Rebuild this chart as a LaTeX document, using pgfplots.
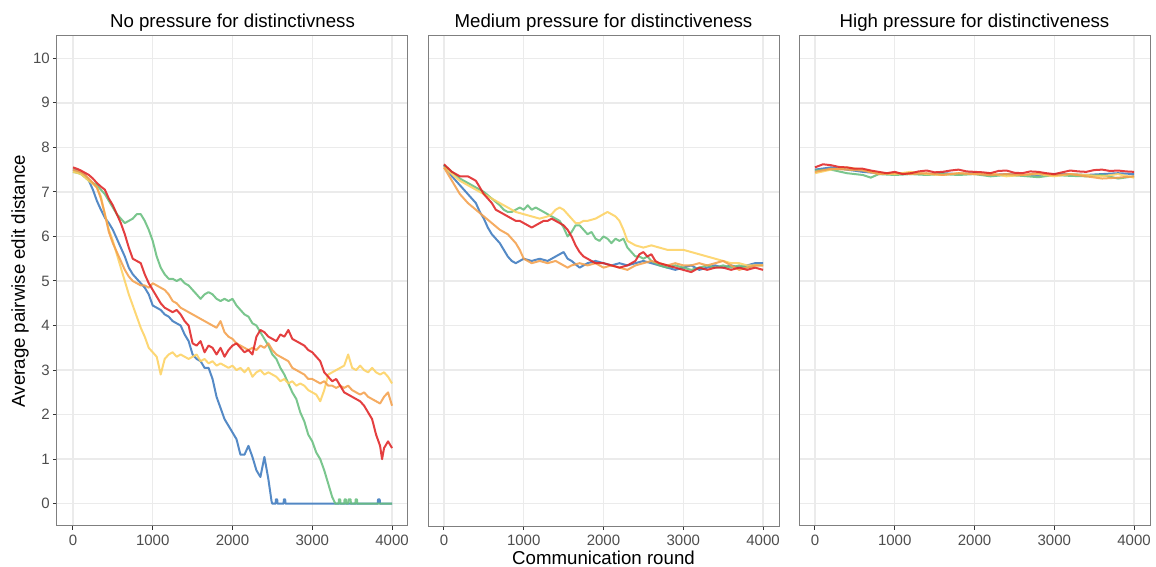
\documentclass[border=0pt]{standalone}
\usepackage{fontspec}
\setmainfont{Liberation Sans}
\usepackage{pgfplots}
\pgfplotsset{compat=1.18}

\definecolor{sblue}{RGB}{62,122,190}
\definecolor{sgreen}{RGB}{104,190,126}
\definecolor{syellow}{RGB}{253,210,98}
\definecolor{sorange}{RGB}{244,160,76}
\definecolor{sred}{RGB}{224,36,38}
\definecolor{gridgrey}{RGB}{235,235,235}
\definecolor{bordergrey}{RGB}{127,127,127}
\definecolor{tickgrey}{RGB}{51,51,51}
\definecolor{labgrey}{RGB}{77,77,77}

\newcommand{\ticksize}{\fontsize{11.25}{13}\selectfont}
\newcommand{\titlesize}{\fontsize{14}{16}\selectfont}

\pgfplotsset{
  panel/.style={
    scale only axis, width=263.25pt, height=367.5pt,
    xmin=-200, xmax=4200, ymin=-0.5, ymax=10.5,
    xtick={0,1000,2000,3000,4000}, ytick={0,1,...,10},
    xtick pos=bottom, ytick pos=left,
    grid=major,
    major grid style={line width=1.1pt, draw=gridgrey},
    axis line style={line width=0.75pt, draw=bordergrey},
    tick align=outside, major tick length=3pt,
    tick style={line width=0.75pt, draw=tickgrey},
    ticklabel style={font=\ticksize, text=labgrey},
    yticklabel style={inner sep=2.25pt},
    /pgf/number format/assume math mode=true,
    /pgf/number format/1000 sep={},
    scaled x ticks=false,
    title style={font=\titlesize, at={(0.5,1)}, anchor=base, yshift=0.5pt},
    every axis plot/.append style={line width=1.5pt, opacity=0.88, line join=round, no markers},
  },
  inner/.style={yticklabels={}, ytick style={draw=none}},
}

\begin{document}
\begin{tikzpicture}
\path[use as bounding box] (-42.75pt,-30.75pt) rectangle (824.25pt,394.5pt);

% ---- panel 1
\begin{axis}[panel, at={(0pt,0pt)}, anchor=south west,
  title={No pressure for distinctivness},
  ylabel={Average pairwise edit distance},
  ylabel style={font=\titlesize, at={(axis description cs:0,0.5)}, anchor=center, yshift=27.75pt}]
\addplot[sblue] coordinates {
(0,7.50)(50,7.48)(100,7.42)(150,7.38)(200,7.25)(250,7.05)(300,6.80)(350,6.60)(400,6.42)(450,6.30)
(500,6.15)(550,5.95)(600,5.75)(650,5.55)(700,5.30)(750,5.15)(800,5.05)(850,4.95)(900,4.85)(950,4.70)
(1000,4.45)(1050,4.40)(1100,4.35)(1150,4.25)(1200,4.20)(1250,4.10)(1300,4.05)(1350,4.00)(1400,3.80)(1450,3.65)
(1500,3.35)(1550,3.25)(1600,3.20)(1650,3.05)(1700,3.05)(1750,2.80)(1800,2.40)(1850,2.15)(1900,1.90)(1950,1.75)
(2000,1.60)(2050,1.45)(2100,1.10)(2150,1.10)(2200,1.30)(2250,1.05)(2300,0.75)(2350,0.60)(2400,1.05)(2450,0.55)
(2490,0.05)(2500,0)(2540,0)(2545,0.1)(2560,0.1)(2565,0)(2640,0)(2645,0.1)(2660,0.1)(2665,0)
(3820,0)(3825,0.1)(3845,0.1)(3850,0)(4000,0)};
\addplot[sgreen] coordinates {
(0,7.45)(50,7.43)(100,7.40)(150,7.33)(200,7.25)(250,7.20)(300,7.15)(350,7.05)(400,6.95)(450,6.80)
(500,6.65)(550,6.50)(600,6.40)(650,6.30)(700,6.35)(750,6.40)(800,6.50)(850,6.50)(900,6.35)(950,6.15)
(1000,5.90)(1050,5.55)(1100,5.30)(1150,5.15)(1200,5.05)(1250,5.05)(1300,5.00)(1350,5.05)(1400,4.95)(1450,4.90)
(1500,4.80)(1550,4.70)(1600,4.60)(1650,4.70)(1700,4.75)(1750,4.70)(1800,4.60)(1850,4.55)(1900,4.60)(1950,4.55)
(2000,4.60)(2050,4.45)(2100,4.35)(2150,4.25)(2200,4.20)(2250,4.05)(2300,4.00)(2350,3.85)(2400,3.70)(2450,3.55)
(2500,3.35)(2550,3.25)(2600,3.05)(2650,2.90)(2700,2.70)(2750,2.50)(2800,2.35)(2850,2.05)(2900,1.85)(2950,1.55)
(3000,1.40)(3050,1.15)(3100,1.00)(3150,0.75)(3200,0.45)(3250,0.15)(3290,0)(3330,0)(3335,0.1)(3350,0.1)(3355,0)
(3400,0)(3405,0.1)(3420,0.1)(3425,0)(3450,0)(3455,0.1)(3480,0.1)(3485,0)(3540,0)(3545,0.1)(3560,0.1)(3565,0)(4000,0)};
\addplot[syellow] coordinates {
(0,7.45)(50,7.43)(100,7.40)(150,7.33)(200,7.25)(250,7.18)(300,7.10)(350,6.90)(400,6.50)(450,6.15)
(500,5.90)(550,5.60)(600,5.30)(650,5.00)(700,4.70)(750,4.45)(800,4.20)(850,3.95)(900,3.75)(950,3.50)
(1000,3.40)(1050,3.30)(1100,2.90)(1150,3.25)(1200,3.35)(1250,3.40)(1300,3.30)(1350,3.35)(1400,3.30)(1450,3.25)
(1500,3.30)(1550,3.35)(1600,3.20)(1650,3.25)(1700,3.15)(1750,3.20)(1800,3.10)(1850,3.15)(1900,3.10)(1950,3.05)
(2000,3.10)(2050,3.00)(2100,3.05)(2150,2.95)(2200,3.05)(2250,2.85)(2300,2.95)(2350,3.00)(2400,2.90)(2450,2.95)
(2500,2.90)(2550,2.85)(2600,2.75)(2650,2.80)(2700,2.70)(2750,2.75)(2800,2.65)(2850,2.70)(2900,2.65)(2950,2.55)
(3000,2.50)(3050,2.45)(3100,2.30)(3150,2.55)(3200,2.90)(3250,2.95)(3300,3.00)(3350,3.05)(3400,3.10)(3450,3.35)
(3500,3.05)(3550,3.00)(3600,3.10)(3650,3.00)(3700,2.95)(3750,3.05)(3800,2.95)(3850,2.90)(3900,2.95)(3950,2.85)(4000,2.70)};
\addplot[sorange] coordinates {
(0,7.50)(50,7.47)(100,7.45)(150,7.38)(200,7.30)(250,7.20)(300,7.10)(350,6.85)(400,6.50)(450,6.10)
(500,5.85)(550,5.65)(600,5.45)(650,5.25)(700,5.10)(750,5.00)(800,4.95)(850,4.90)(900,4.90)(950,4.85)
(1000,4.95)(1050,4.90)(1100,4.85)(1150,4.80)(1200,4.70)(1250,4.55)(1300,4.50)(1350,4.40)(1400,4.35)(1450,4.30)
(1500,4.25)(1550,4.20)(1600,4.15)(1650,4.10)(1700,4.05)(1750,4.00)(1800,3.95)(1850,4.10)(1900,3.85)(1950,3.75)
(2000,3.70)(2050,3.60)(2100,3.55)(2150,3.50)(2200,3.45)(2250,3.50)(2300,3.45)(2350,3.55)(2400,3.50)(2450,3.60)
(2500,3.45)(2550,3.35)(2600,3.30)(2650,3.25)(2700,3.20)(2750,3.05)(2800,3.00)(2850,2.95)(2900,2.90)(2950,2.80)
(3000,2.80)(3050,2.75)(3100,2.70)(3150,2.75)(3200,2.65)(3250,2.65)(3300,2.60)(3350,2.65)(3400,2.60)(3450,2.65)
(3500,2.55)(3550,2.50)(3600,2.45)(3650,2.50)(3700,2.40)(3750,2.35)(3800,2.30)(3850,2.25)(3900,2.40)(3950,2.50)(4000,2.20)};
\addplot[sred] coordinates {
(0,7.55)(50,7.52)(100,7.48)(150,7.43)(200,7.38)(250,7.30)(300,7.20)(350,7.12)(400,7.05)(450,6.85)
(500,6.70)(550,6.50)(600,6.30)(650,6.05)(700,5.75)(750,5.50)(800,5.45)(850,5.40)(900,5.15)(950,4.95)
(1000,4.80)(1050,4.65)(1100,4.50)(1150,4.40)(1200,4.35)(1250,4.30)(1300,4.35)(1350,4.25)(1400,4.10)(1450,4.00)
(1500,3.60)(1550,3.55)(1600,3.65)(1650,3.40)(1700,3.55)(1750,3.50)(1800,3.35)(1850,3.50)(1900,3.30)(1950,3.45)
(2000,3.55)(2050,3.60)(2100,3.50)(2150,3.40)(2200,3.45)(2250,3.35)(2300,3.75)(2350,3.90)(2400,3.85)(2450,3.75)
(2500,3.70)(2550,3.65)(2600,3.80)(2650,3.75)(2700,3.90)(2750,3.70)(2800,3.65)(2850,3.60)(2900,3.55)(2950,3.45)
(3000,3.40)(3050,3.30)(3100,3.20)(3150,2.95)(3200,2.85)(3250,2.75)(3300,2.80)(3350,2.65)(3400,2.50)(3450,2.45)
(3500,2.40)(3550,2.35)(3600,2.30)(3650,2.20)(3700,2.05)(3750,1.90)(3800,1.55)(3850,1.30)(3875,1.00)(3900,1.25)(3950,1.40)(4000,1.25)};
\end{axis}

% ---- panel 2
\begin{axis}[panel, inner, at={(278.25pt,0pt)}, anchor=south west,
  title={Medium pressure for distinctiveness},
  xlabel={Communication round},
  xlabel style={font=\titlesize, at={(axis description cs:0.5,0)}, anchor=base, yshift=-29pt}]
\addplot[sblue] coordinates {
(0,7.60)(50,7.48)(100,7.35)(150,7.25)(200,7.15)(250,7.05)(300,6.95)(350,6.85)(400,6.75)(450,6.55)
(500,6.40)(550,6.20)(600,6.05)(650,5.95)(700,5.85)(750,5.70)(800,5.55)(850,5.45)(900,5.40)(950,5.45)
(1000,5.50)(1100,5.45)(1200,5.50)(1300,5.45)(1400,5.55)(1500,5.65)(1550,5.50)(1600,5.45)(1700,5.30)(1800,5.40)
(1900,5.45)(2000,5.40)(2100,5.35)(2200,5.40)(2300,5.35)(2400,5.40)(2500,5.45)(2600,5.40)(2700,5.35)(2800,5.30)
(2900,5.25)(3000,5.30)(3100,5.35)(3200,5.25)(3300,5.30)(3400,5.35)(3500,5.30)(3600,5.35)(3700,5.30)(3800,5.35)(3900,5.40)(4000,5.40)};
\addplot[sgreen] coordinates {
(0,7.60)(100,7.45)(200,7.30)(300,7.20)(400,7.10)(500,7.00)(600,6.85)(700,6.70)(750,6.60)(800,6.55)
(850,6.55)(900,6.60)(950,6.65)(1000,6.60)(1050,6.70)(1100,6.60)(1150,6.65)(1200,6.60)(1250,6.55)(1300,6.50)
(1350,6.45)(1400,6.40)(1450,6.35)(1500,6.20)(1550,6.00)(1600,6.10)(1650,6.25)(1700,6.25)(1750,6.15)(1800,6.05)
(1850,6.10)(1900,5.95)(1950,5.90)(2000,6.00)(2050,5.95)(2100,5.85)(2150,5.95)(2200,5.90)(2250,5.95)(2300,5.75)
(2350,5.65)(2400,5.55)(2450,5.55)(2500,5.50)(2550,5.55)(2600,5.45)(2700,5.35)(2800,5.30)(2900,5.35)(3000,5.30)
(3100,5.25)(3200,5.30)(3300,5.35)(3400,5.30)(3500,5.35)(3600,5.30)(3700,5.35)(3800,5.30)(3900,5.35)(4000,5.35)};
\addplot[syellow] coordinates {
(0,7.55)(100,7.40)(200,7.25)(300,7.15)(400,7.05)(500,6.95)(600,6.85)(700,6.75)(800,6.65)(900,6.55)
(1000,6.50)(1100,6.45)(1200,6.40)(1300,6.45)(1350,6.50)(1400,6.60)(1450,6.65)(1500,6.60)(1550,6.50)(1600,6.40)
(1650,6.30)(1700,6.30)(1750,6.35)(1800,6.35)(1900,6.40)(1950,6.45)(2000,6.50)(2050,6.55)(2100,6.50)(2150,6.45)
(2200,6.35)(2250,6.15)(2300,5.90)(2350,5.85)(2400,5.80)(2500,5.75)(2600,5.80)(2700,5.75)(2800,5.70)(2900,5.70)
(3000,5.70)(3100,5.65)(3200,5.60)(3300,5.55)(3400,5.50)(3500,5.45)(3600,5.40)(3700,5.40)(3800,5.35)(3900,5.35)(4000,5.35)};
\addplot[sorange] coordinates {
(0,7.55)(100,7.25)(200,6.95)(300,6.75)(400,6.60)(500,6.45)(600,6.30)(700,6.15)(800,6.05)(850,5.95)
(900,5.85)(950,5.70)(1000,5.50)(1050,5.45)(1100,5.40)(1200,5.45)(1300,5.40)(1400,5.45)(1500,5.35)(1550,5.30)
(1600,5.35)(1700,5.40)(1800,5.35)(1900,5.40)(2000,5.30)(2100,5.35)(2200,5.30)(2300,5.25)(2400,5.35)(2500,5.40)
(2600,5.45)(2700,5.40)(2800,5.35)(2900,5.40)(3000,5.35)(3100,5.35)(3200,5.40)(3300,5.35)(3400,5.40)(3500,5.45)
(3600,5.35)(3700,5.25)(3800,5.30)(3900,5.35)(4000,5.35)};
\addplot[sred] coordinates {
(0,7.62)(100,7.45)(200,7.35)(300,7.35)(350,7.30)(400,7.25)(450,7.10)(500,6.95)(550,6.85)(600,6.75)
(650,6.60)(700,6.55)(750,6.50)(800,6.45)(850,6.40)(900,6.35)(950,6.35)(1000,6.30)(1050,6.25)(1100,6.20)
(1150,6.25)(1200,6.30)(1250,6.35)(1300,6.35)(1350,6.40)(1400,6.35)(1450,6.30)(1500,6.25)(1550,6.15)(1600,6.00)
(1650,5.80)(1700,5.65)(1750,5.55)(1800,5.50)(1850,5.45)(1900,5.40)(2000,5.40)(2100,5.35)(2200,5.30)(2300,5.35)
(2400,5.45)(2450,5.60)(2500,5.65)(2550,5.55)(2600,5.60)(2650,5.45)(2700,5.40)(2800,5.35)(2900,5.30)(3000,5.25)
(3100,5.20)(3200,5.30)(3300,5.25)(3400,5.30)(3500,5.30)(3600,5.25)(3700,5.30)(3800,5.25)(3900,5.30)(4000,5.25)};
\end{axis}

% ---- panel 3
\begin{axis}[panel, inner, at={(556.5pt,0pt)}, anchor=south west,
  title={High pressure for distinctiveness}]
\addplot[sblue] coordinates {
(0,7.50)(200,7.55)(400,7.50)(600,7.45)(800,7.42)(1000,7.40)(1200,7.42)(1400,7.40)(1600,7.42)(1800,7.40)
(2000,7.42)(2200,7.38)(2400,7.40)(2600,7.38)(2800,7.37)(3000,7.40)(3200,7.40)(3400,7.38)(3600,7.40)(3800,7.42)(4000,7.40)};
\addplot[sgreen] coordinates {
(0,7.48)(200,7.50)(400,7.42)(600,7.38)(700,7.32)(800,7.40)(1000,7.38)(1200,7.40)(1400,7.38)(1600,7.40)
(1800,7.38)(2000,7.40)(2200,7.35)(2400,7.38)(2600,7.36)(2800,7.33)(3000,7.38)(3200,7.36)(3400,7.35)(3600,7.38)(3800,7.30)(4000,7.35)};
\addplot[syellow] coordinates {
(0,7.42)(200,7.50)(400,7.55)(600,7.50)(800,7.42)(1000,7.40)(1200,7.45)(1400,7.40)(1600,7.38)(1800,7.42)
(2000,7.40)(2200,7.42)(2400,7.35)(2600,7.38)(2800,7.40)(3000,7.35)(3200,7.40)(3400,7.38)(3600,7.35)(3800,7.40)(4000,7.32)};
\addplot[sorange] coordinates {
(0,7.45)(200,7.52)(400,7.50)(600,7.48)(800,7.40)(1000,7.42)(1200,7.40)(1400,7.42)(1600,7.38)(1800,7.42)
(2000,7.40)(2200,7.38)(2400,7.40)(2600,7.38)(2800,7.42)(3000,7.38)(3200,7.40)(3400,7.35)(3600,7.30)(3800,7.32)(4000,7.35)};
\addplot[sred] coordinates {
(0,7.55)(100,7.62)(200,7.60)(300,7.56)(400,7.55)(500,7.52)(600,7.52)(700,7.48)(800,7.45)(900,7.42)
(1000,7.45)(1100,7.40)(1200,7.42)(1300,7.46)(1400,7.48)(1500,7.44)(1600,7.45)(1700,7.48)(1800,7.50)(1900,7.46)
(2000,7.45)(2100,7.44)(2200,7.42)(2300,7.47)(2400,7.48)(2500,7.43)(2600,7.42)(2700,7.46)(2800,7.45)(2900,7.42)
(3000,7.40)(3100,7.44)(3200,7.48)(3300,7.46)(3400,7.45)(3500,7.49)(3600,7.50)(3700,7.47)(3800,7.48)(3900,7.46)(4000,7.45)};
\end{axis}
\end{tikzpicture}
\end{document}
